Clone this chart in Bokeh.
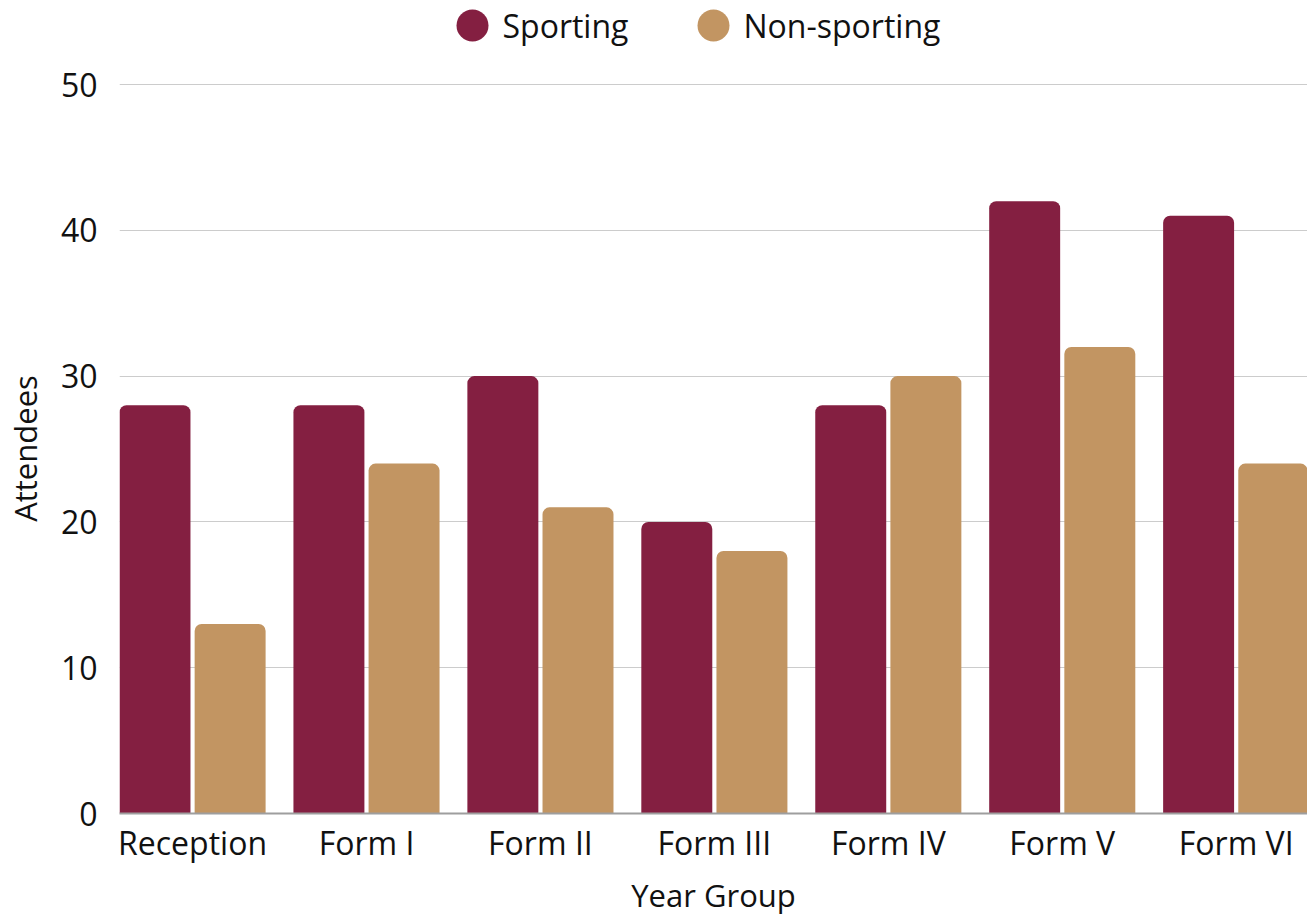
from bokeh.plotting import figure
from bokeh.models import Range1d, FixedTicker
from bokeh.layouts import column
from bokeh.transform import dodge
from bokeh.core.properties import value
from bokeh.embed import file_html
from bokeh.resources import INLINE

categories = ["Reception", "Form I", "Form II", "Form III", "Form IV", "Form V", "Form VI"]
sporting = [28, 28, 30, 20, 28, 42, 41]
non_sporting = [13, 24, 21, 18, 30, 32, 24]
y_ticks = [0, 10, 20, 30, 40, 50]
series_names = ["Sporting", "Non-sporting"]
colors = ["#841F41", "#C29562"]

FONT = "Open Sans"
TEXT_COLOR = "#111111"
idx = list(range(len(categories)))
src = dict(x=idx, sporting=sporting, non_sporting=non_sporting)

LEFT = 112
FRAME_W = 1188

# ---- legend strip (coordinates in frame pixels) ----
LEG_H = 56
leg = figure(frame_width=FRAME_W, frame_height=LEG_H, output_backend="svg", toolbar_location=None,
             x_range=Range1d(0, FRAME_W), y_range=Range1d(0, LEG_H),
             min_border_left=LEFT, min_border_right=0, min_border_top=0, min_border_bottom=0,
             x_axis_type=None, y_axis_type=None)
leg.outline_line_color = None
leg.grid.visible = False
leg_x = [353, 594]
leg_y = [LEG_H - 25, LEG_H - 25]
leg.scatter(x=leg_x, y=leg_y, marker="circle", size=32, fill_color=colors, line_color=None)
leg.text(x=[x + 30 for x in leg_x], y=leg_y, text=series_names, text_font=value(FONT),
         text_font_size="32px", text_color=TEXT_COLOR, text_baseline="middle", text_align="left")

# ---- main chart ----
p = figure(frame_width=FRAME_W, frame_height=730, output_backend="svg", toolbar_location=None,
           x_range=Range1d(-0.42, 6.41), y_range=Range1d(0, 50.07),
           min_border_left=LEFT, min_border_right=0, min_border_top=83 - LEG_H, min_border_bottom=10)
p.outline_line_color = None

p.vbar(x=dodge("x", -0.216, range=p.x_range), top="sporting", width=0.408, source=src,
       fill_color=colors[0], line_color=None, border_radius=(7, 7, 0, 0))
p.vbar(x=dodge("x", 0.216, range=p.x_range), top="non_sporting", width=0.408, source=src,
       fill_color=colors[1], line_color=None, border_radius=(7, 7, 0, 0))

p.xaxis.ticker = FixedTicker(ticks=idx)
p.xaxis.major_label_overrides = {i: c for i, c in enumerate(categories)}
p.yaxis.ticker = FixedTicker(ticks=y_ticks)
for ax in (p.xaxis[0], p.yaxis[0]):
    ax.major_tick_line_color = None
    ax.minor_tick_line_color = None
    ax.major_label_text_font = FONT
    ax.major_label_text_font_size = "32px"
    ax.major_label_text_color = TEXT_COLOR
    ax.axis_label_text_font = FONT
    ax.axis_label_text_font_size = "31px"
    ax.axis_label_text_font_style = "normal"
    ax.axis_label_text_color = TEXT_COLOR
p.xaxis.axis_label = "Year Group"
p.yaxis.axis_label = "Attendees"
p.xaxis.axis_line_color = "#9E9E9E"
p.xaxis.axis_line_width = 2
p.yaxis.axis_line_color = None
p.xaxis.major_label_standoff = 1
p.xaxis.axis_label_standoff = 7
p.yaxis.major_label_standoff = 16
p.yaxis.axis_label_standoff = 12

p.xgrid.grid_line_color = None
p.ygrid.grid_line_color = "#CCCCCC"
p.ygrid.grid_line_width = 1

layout = column(leg, p, spacing=0)
open("out.html", "w").write(file_html(layout, INLINE))
